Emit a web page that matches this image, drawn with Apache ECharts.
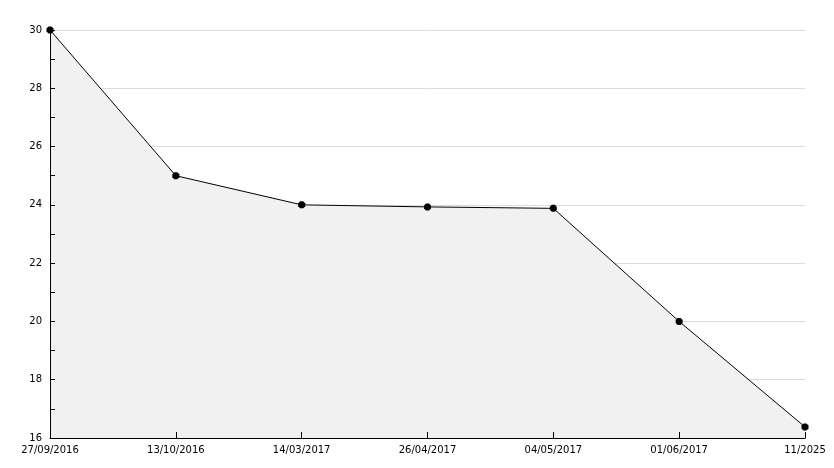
<!DOCTYPE html>
<html><head><meta charset="utf-8">
<script src="https://cdn.jsdelivr.net/npm/echarts@6/dist/echarts.min.js"></script>
<style>html,body{margin:0;padding:0;background:#fff}#c{width:834px;height:468px}</style>
</head><body><div id="c"></div>
<script>
const categories = ['27/09/2016','13/10/2016','14/03/2017','26/04/2017','04/05/2017','01/06/2017','11/2025'];
const values = [30, 25, 24, 23.93, 23.88, 20, 16.38];
const yTicks = [16, 18, 20, 22, 24, 26, 28, 30];

const yMin = yTicks[0], yMax = yTicks[yTicks.length-1];
const chart = echarts.init(document.getElementById('c'), null, {renderer:'canvas'});
chart.setOption({
  animation: false,
  grid: {left: 50, right: 29, top: 30, bottom: 30},
  xAxis: {
    type: 'category', data: categories, boundaryGap: false, z: 10,
    axisLine: {lineStyle: {color: '#000', width: 1}},
    axisTick: {inside: true, length: 6, lineStyle: {color: '#000'}, alignWithLabel: true},
    axisLabel: {color: '#000', fontFamily: 'DejaVu Sans', fontSize: 10, margin: 7, interval: 0},
    splitLine: {show: false}
  },
  yAxis: [{
    type: 'value', min: yMin, max: yMax, interval: 2, z: 0,
    axisLine: {show: false},
    axisTick: {show: false},
    axisLabel: {color: '#000', fontFamily: 'DejaVu Sans', fontSize: 10, margin: 8},
    splitLine: {show: true, lineStyle: {color: '#dcdcdc', width: 1}}
  }, {
    type: 'value', min: yMin, max: yMax, interval: 2, z: 10, position: 'left', offset: 0,
    axisLine: {show: true, lineStyle: {color: '#000', width: 1}},
    axisTick: {show: true, inside: true, length: 5, lineStyle: {color: '#000'}},
    minorTick: {show: true, splitNumber: 2, length: 5, lineStyle: {color: '#000'}},
    axisLabel: {show: false},
    splitLine: {show: false, lineStyle: {color: '#dcdcdc'}}
  }],
  series: [{
    type: 'line', data: values, yAxisIndex: 0, z: 5,
    symbol: 'path://M2,0 L5,0 L7,2 L7,5 L5,7 L2,7 L0,5 L0,2 Z',
    symbolSize: 7,
    itemStyle: {color: '#000'},
    lineStyle: {color: '#000', width: 1},
    areaStyle: {color: '#f1f1f1', opacity: 1}
  }]
});
</script></body></html>
